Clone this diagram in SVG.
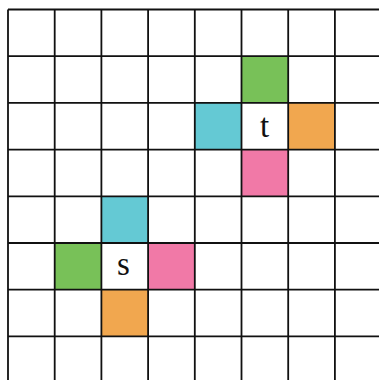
<svg xmlns="http://www.w3.org/2000/svg" width="379" height="380" viewBox="0 0 379 380">
<style>
.g{fill:#78c158}.c{fill:#64c9d4}.o{fill:#f1a74f}.p{fill:#f179a7}
.ln{stroke:#111;stroke-width:1.8;fill:none}
.lb{font-family:"Liberation Serif",serif;font-size:33px;fill:#111;text-anchor:middle}
</style>
<rect width="379" height="380" fill="#fff"/>
<g id="cells-t">
<rect class="g" x="241.5" y="56.2" width="46.7" height="46.7"/>
<rect class="c" x="194.8" y="102.9" width="46.7" height="46.7"/>
<rect class="o" x="288.2" y="102.9" width="46.7" height="46.7"/>
<rect class="p" x="241.5" y="149.6" width="46.7" height="46.7"/>
</g>
<g id="cells-s">
<rect class="c" x="101.4" y="196.3" width="46.7" height="46.7"/>
<rect class="g" x="54.7" y="243" width="46.7" height="46.7"/>
<rect class="p" x="148.1" y="243" width="46.7" height="46.7"/>
<rect class="o" x="101.4" y="289.7" width="46.7" height="46.7"/>
</g>
<g id="grid" class="ln">
<path d="M8 9.5V380M54.7 9.5V380M101.4 9.5V380M148.1 9.5V380M194.8 9.5V380M241.5 9.5V380M288.2 9.5V380M334.9 9.5V380"/>
<path d="M8 9.5H379M8 56.2H379M8 102.9H379M8 149.6H379M8 196.3H379M8 243H379M8 289.7H379M8 336.4H379"/>
</g>
<g id="node-t"><text class="lb" x="264.5" y="136.5">t</text></g>
<g id="node-s"><text class="lb" x="123.5" y="275">s</text></g>
</svg>
